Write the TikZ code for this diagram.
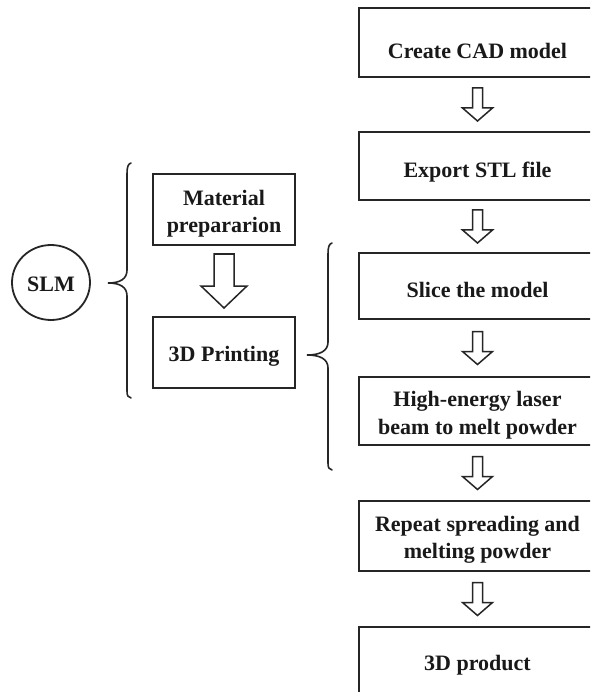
\documentclass[tikz,border=0pt]{standalone}
\usepackage{fontspec}
\setmainfont{Liberation Serif}
\usetikzlibrary{calc,shapes.geometric}
\begin{document}
\begin{tikzpicture}[x=1pt,y=-1pt,
  ink/.style={draw=black!85, line width=1.8pt},
  stepbox/.style={ink, rectangle, inner sep=0pt, minimum width=237pt},
  sidebox/.style={ink, rectangle, inner sep=0pt, minimum width=142pt, minimum height=71pt},
  lbl/.style={inner sep=0pt, align=center, text=black!90,
    font=\fontsize{22}{27.5}\selectfont\bfseries},
  hollow/.style={draw=black!85, line width=1.5pt, line join=miter, fill=white},
  pics/hollowdown/.style n args={4}{code={
    \draw[hollow]
      ({-#1},{-(#3+#4)/2}) -- ({#1},{-(#3+#4)/2}) --
      ({#1},{-(#3+#4)/2+#3}) -- ({#2},{-(#3+#4)/2+#3}) --
      (0,{(#3+#4)/2}) --
      ({-#2},{-(#3+#4)/2+#3}) -- ({-#1},{-(#3+#4)/2+#3}) -- cycle;
  }},
]
\useasboundingbox (0,0) rectangle (590,692);
\fill[white] (0,0) rectangle (590,692);
\clip (0,0) rectangle (590,692);

% main process column
\node[stepbox, minimum height=69pt] (b1) at (477.5,42.5) {};
\node[stepbox, minimum height=68pt] (b2) at (477.5,166) {};
\node[stepbox, minimum height=66pt] (b3) at (477.5,286) {};
\node[stepbox, minimum height=68pt] (b4) at (477.5,411) {};
\node[stepbox, minimum height=70pt] (b5) at (477.5,536) {};
\node[stepbox, minimum height=69pt] (b6) at (477.5,661.5) {};

\node[lbl] (t1) at ([yshift=-8pt]b1.center) {Create CAD model};
\node[lbl] (t2) at ([yshift=-6pt]b2.center) {Export STL file};
\node[lbl] (t3) at ([yshift=-4pt]b3.center) {Slice the model};
\node[lbl] (t4) at ([yshift=-4pt]b4.center) {High-energy laser\\beam to melt powder};
\node[lbl] (t5) at ([yshift=-4pt]b5.center) {Repeat spreading and\\melting powder};
\node[lbl] (t6) at ([yshift=-4pt]b6.center) {3D product};

\pic (a1) at ($(b1.south)!0.5!(b2.north)$) {hollowdown={5}{15}{20}{13}};
\pic (a2) at ($(b2.south)!0.5!(b3.north)$) {hollowdown={5}{15}{20}{13}};
\pic (a3) at ($(b3.south)!0.5!(b4.north)$) {hollowdown={5}{15}{20}{13}};
\pic (a4) at ($(b4.south)!0.5!(b5.north)$) {hollowdown={5}{15}{20}{13}};
\pic (a5) at ($(b5.south)!0.5!(b6.north)$) {hollowdown={5}{15}{20}{13}};

% SLM stages
\node[sidebox] (mat) at (224,209.5) {};
\node[sidebox] (prt) at (224,352.5) {};
\node[lbl] (tm) at ([yshift=-4pt]mat.center) {Material\\prepararion};
\node[lbl] (tp) at ([yshift=-4pt]prt.center) {3D Printing};
\pic (big) at ($(mat.south)!0.5!(prt.north)$) {hollowdown={10}{23}{32}{22}};

\node[ink, ellipse, minimum width=78pt, minimum height=75pt, inner sep=0pt] (slm) at (51,282.5) {};
\node[lbl] (tslm) at ([yshift=-2pt]slm.center) {SLM};

% braces
\draw[ink, line width=1.6pt, line cap=round]
  (131,163) .. controls (128,164) and (127,167) .. (127,174) -- (127,270)
  .. controls (127,279) and (120,283) .. (108,283)
  .. controls (120,283) and (127,287) .. (127,296) -- (127,391)
  .. controls (127,396) and (128,397) .. (131,398);
\draw[ink, line width=1.6pt, line cap=round]
  (332,243) .. controls (329,244) and (328,247) .. (328,254) -- (328,342)
  .. controls (328,351) and (320,355) .. (307,355)
  .. controls (320,355) and (328,359) .. (328,368) -- (328,463)
  .. controls (328,468) and (329,469) .. (332,470);
\end{tikzpicture}
\end{document}
